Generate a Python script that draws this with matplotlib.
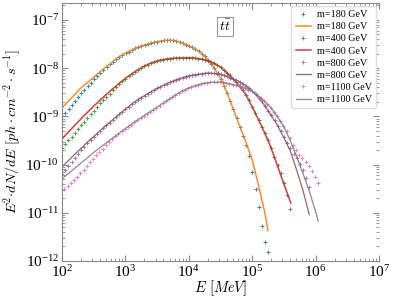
import numpy as np
import matplotlib.pyplot as plt

plt.rcParams['font.family'] = 'serif'
plt.rcParams['font.serif'] = ['Liberation Serif', 'DejaVu Serif']
plt.rcParams['mathtext.fontset'] = 'cm'

# dark matter masses in GeV
masses = [180, 400, 800, 1100]

# ---- smooth curves (lines): log10(E/MeV) and log10(E^2 dN/dE)
line_loge_180 = list(np.arange(2.0, 5.25, 0.1)) + [5.25]
line_logf_180 = [-8.83, -8.69, -8.55, -8.41, -8.30, -8.19, -8.08, -7.97, -7.87, -7.76,
                 -7.69, -7.63, -7.56, -7.52, -7.48, -7.45, -7.43, -7.415, -7.43, -7.48,
                 -7.53, -7.60, -7.69, -7.82, -7.99, -8.20, -8.50, -8.84, -9.19, -9.53,
                 -9.90, -10.43, -11.00, -11.37]

line_loge_400 = list(np.arange(2.0, 5.65, 0.1)) + [5.61]
line_logf_400 = [-9.47, -9.33, -9.19, -9.055, -8.92, -8.79, -8.665, -8.545, -8.43, -8.32,
                 -8.215, -8.12, -8.03, -7.955, -7.895, -7.85, -7.82, -7.80, -7.79, -7.785,
                 -7.785, -7.79, -7.81, -7.845, -7.90, -7.98, -8.09, -8.22, -8.37, -8.55,
                 -8.80, -9.07, -9.35, -9.66, -10.03, -10.40, -10.76, -10.80]

line_loge_800 = list(np.arange(2.0, 5.95, 0.1))
line_logf_800 = [-10.05, -9.92, -9.79, -9.665, -9.54, -9.42, -9.30, -9.185, -9.07, -8.96,
                 -8.85, -8.745, -8.65, -8.57, -8.49, -8.42, -8.355, -8.295, -8.24, -8.195,
                 -8.16, -8.135, -8.115, -8.10, -8.11, -8.13, -8.17, -8.22, -8.28, -8.36,
                 -8.47, -8.61, -8.78, -8.98, -9.19, -9.44, -9.71, -10.11, -10.53, -11.04]

line_loge_1100 = list(np.arange(2.0, 6.05, 0.1)) + [6.04]
line_logf_1100 = [-10.30, -10.19, -10.08, -9.97, -9.86, -9.75, -9.65, -9.55, -9.45, -9.35,
                  -9.255, -9.16, -9.07, -8.98, -8.895, -8.81, -8.72, -8.635, -8.55, -8.47,
                  -8.41, -8.36, -8.325, -8.30, -8.29, -8.29, -8.31, -8.34, -8.38, -8.42,
                  -8.48, -8.58, -8.69, -8.83, -9.01, -9.21, -9.50, -9.83, -10.18, -10.55,
                  -10.97, -11.17]

# ---- tabulated points (every 0.05 in log10 x, last one at E = m)
pts_logf_180 = [-9.00, -8.93, -8.85, -8.76, -8.68, -8.60, -8.52, -8.45, -8.37, -8.30,
                -8.23, -8.17, -8.11, -8.04, -7.98, -7.92, -7.87, -7.81, -7.76, -7.72,
                -7.685, -7.66, -7.62, -7.59, -7.56, -7.54, -7.52, -7.50, -7.48, -7.465,
                -7.45, -7.435, -7.425, -7.42, -7.415, -7.42, -7.43, -7.45, -7.48, -7.51,
                -7.535, -7.57, -7.60, -7.65, -7.70, -7.75, -7.82, -7.91, -8.00, -8.10,
                -8.22, -8.36, -8.52, -8.68, -8.85, -9.03, -9.21, -9.40, -9.60, -9.82,
                -10.15, -10.51, -10.88, -11.27, -11.61, -11.81]

pts_logf_400 = [-9.66, -9.58, -9.50, -9.42, -9.34, -9.26, -9.18, -9.11, -9.03, -8.95,
                -8.88, -8.81, -8.73, -8.66, -8.59, -8.53, -8.46, -8.39, -8.33, -8.27,
                -8.215, -8.165, -8.12, -8.075, -8.03, -7.99, -7.955, -7.925, -7.895, -7.87,
                -7.85, -7.835, -7.82, -7.81, -7.80, -7.795, -7.79, -7.787, -7.785, -7.785,
                -7.785, -7.787, -7.79, -7.80, -7.81, -7.825, -7.845, -7.87, -7.90, -7.94,
                -7.98, -8.03, -8.09, -8.15, -8.22, -8.29, -8.37, -8.46, -8.55, -8.67,
                -8.80, -8.93, -9.07, -9.21, -9.35, -9.50, -9.66, -9.84, -10.00, -10.17,
                -10.38, -10.63, -10.92]

pts_logf_800 = [-10.20, -10.12, -10.03, -9.95, -9.86, -9.78, -9.70, -9.63, -9.56, -9.49,
                -9.42, -9.36, -9.30, -9.24, -9.18, -9.13, -9.07, -9.015, -8.96, -8.905,
                -8.85, -8.80, -8.745, -8.695, -8.65, -8.61, -8.57, -8.53, -8.49, -8.455,
                -8.42, -8.39, -8.355, -8.325, -8.295, -8.27, -8.24, -8.22, -8.195, -8.175,
                -8.16, -8.145, -8.135, -8.125, -8.115, -8.105, -8.10, -8.10, -8.11, -8.12,
                -8.13, -8.15, -8.17, -8.195, -8.22, -8.25, -8.28, -8.32, -8.36, -8.41,
                -8.47, -8.54, -8.61, -8.69, -8.78, -8.88, -8.98, -9.08, -9.19, -9.31,
                -9.43, -9.55, -9.66, -9.77, -9.87, -9.99, -10.11, -10.28, -10.47]

pts_logf_1100 = [-10.51, -10.45, -10.385, -10.32, -10.255, -10.18, -10.105, -10.03, -9.955, -9.88,
                 -9.81, -9.74, -9.67, -9.60, -9.53, -9.47, -9.41, -9.36, -9.31, -9.265,
                 -9.22, -9.17, -9.125, -9.08, -9.035, -8.99, -8.945, -8.905, -8.86, -8.82,
                 -8.775, -8.73, -8.685, -8.645, -8.60, -8.56, -8.52, -8.48, -8.445, -8.415,
                 -8.39, -8.365, -8.345, -8.33, -8.315, -8.30, -8.295, -8.29, -8.29, -8.29,
                 -8.295, -8.31, -8.32, -8.34, -8.355, -8.375, -8.395, -8.415, -8.445, -8.475,
                 -8.52, -8.57, -8.62, -8.68, -8.75, -8.82, -8.90, -8.99, -9.09, -9.19,
                 -9.30, -9.44, -9.59, -9.70, -9.80, -9.87, -9.95, -10.03, -10.13, -10.26,
                 -10.39]

lines = [(line_loge_180, line_logf_180), (line_loge_400, line_logf_400),
         (line_loge_800, line_logf_800), (line_loge_1100, line_logf_1100)]
points = [pts_logf_180, pts_logf_400, pts_logf_800, pts_logf_1100]
pt_colors = ['C0', 'C2', 'C4', 'C6']
ln_colors = ['C1', 'C3', 'C5', 'C7']
ln_widths = [1.1, 1.1, 0.9, 0.9]

fig = plt.figure(figsize=(3.94, 3.0), dpi=100)
ax = fig.add_axes([0.157, 0.13, 0.805, 0.86])

for i, m in enumerate(masses):
    vals = np.array(points[i])
    loge = np.log10(m * 1e3) - 0.05 * np.arange(len(vals))[::-1]
    ax.plot(10 ** loge, 10 ** vals, '+', color=pt_colors[i], ms=3.5, mew=0.7,
            alpha=0.9, label='m=%d GeV' % m)
    le, lf = lines[i]
    ax.plot(10 ** np.array(le), 10 ** np.array(lf), '-', color=ln_colors[i],
            lw=ln_widths[i], alpha=0.9, label='m=%d GeV' % m)

ax.set_xscale('log')
ax.set_yscale('log')
ax.set_xlim(1e2, 1e7)
ax.set_ylim(1e-12, 2.25e-7)
ax.set_xlabel(r'$E\ [MeV]$', fontsize=10.5, labelpad=-1)
ax.set_ylabel(r'$E^2{\cdot}dN/dE\ [ph\cdot cm^{-2}\cdot s^{-1}]$', fontsize=10.2, labelpad=1)
ax.tick_params(which='both', direction='in', top=True, right=True, labelsize=11,
               color='#888888', pad=2)
ax.tick_params(which='major', length=4)
ax.tick_params(which='minor', length=2)
for s in ['left', 'bottom', 'top']:
    ax.spines[s].set_color('#888888')
ax.spines['right'].set_visible(False)

ax.text(0.515, 0.91, r'$t\bar{t}$', transform=ax.transAxes, ha='center', va='center',
        fontsize=10, bbox=dict(boxstyle='square,pad=0.15', fc='white', ec='#999999', lw=0.8))

ax.legend(loc='upper right', fontsize=7.3, handlelength=1.5, handletextpad=0.6,
          labelspacing=0.3, borderaxespad=0.3, borderpad=0.4, framealpha=1,
          edgecolor='#dddddd')

fig.savefig('out.png', dpi=100)
